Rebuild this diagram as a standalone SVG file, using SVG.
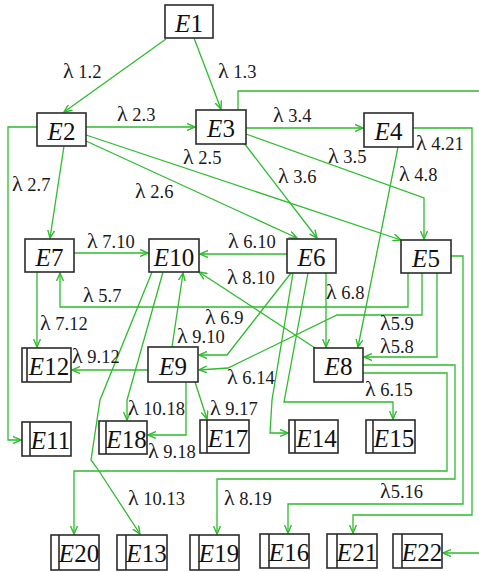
<svg xmlns="http://www.w3.org/2000/svg" width="479" height="572" viewBox="0 0 479 572">
  <style>
    .box { fill: #ffffff; stroke: #2b2b2b; stroke-width: 1.6; }
    .bar { stroke: #2b2b2b; stroke-width: 1.6; }
    .name { font-family: "Liberation Serif", "Times New Roman", serif; font-size: 25px; fill: #111111; text-anchor: middle; }
    .name .v { font-style: italic; }
    .edge { fill: none; stroke: #2cbc2c; stroke-width: 1.3; marker-end: url(#arrow); }
    .rate { font-family: "Liberation Serif", "Times New Roman", serif; font-size: 18.5px; fill: #1a1a1a; }
    .rate .l { font-size: 22px; }
  </style>
  <defs>
    <marker id="arrow" markerUnits="userSpaceOnUse" markerWidth="10" markerHeight="8" refX="8" refY="4" orient="auto">
      <path d="M0,0.5 L8,4 L0,7.5" fill="none" stroke="#2cbc2c" stroke-width="1.4"/>
    </marker>
  </defs>
  <rect width="479" height="572" fill="#ffffff"/>

  <!-- transitions -->
  <g id="connectors">
    <path class="edge" d="M166,39 L64,112"/>
    <path class="edge" d="M194,38 L221,109"/>
    <path class="edge" d="M86,127 H195"/>
    <path class="edge" d="M37,127 H8 V440 H21"/>
    <path class="edge" d="M64,146 L50,238"/>
    <path class="edge" d="M86,135 L401,240"/>
    <path class="edge" d="M86,141 L297,238"/>
    <path class="edge" d="M246,128 H363"/>
    <path class="edge" d="M246,134 L424,198 V239"/>
    <path class="edge" d="M244,143 L317,238"/>
    <path class="edge" d="M238,110 V91 H481 V553 H443"/>
    <path class="edge" d="M413,128 H472 V515 H353 V533"/>
    <path class="edge" d="M398,147 L358,347"/>
    <path class="edge" d="M74,253 H148"/>
    <path class="edge" d="M287,254 H200"/>
    <path class="edge" d="M408,273 V307 H60 V273"/>
    <path class="edge" d="M37,272 V347"/>
    <path class="edge" d="M148,370 H72"/>
    <path class="edge" d="M172,347 L183,273"/>
    <path class="edge" d="M315,348 L199,272"/>
    <path class="edge" d="M291,273 L227,355 H199"/>
    <path class="edge" d="M422,273 V315 H337 L228,368 L199,370"/>
    <path class="edge" d="M437,273 V357 H364"/>
    <path class="edge" d="M451,256 H463 V504 H288 V533"/>
    <path class="edge" d="M363,365 H455 V479 H217 V534"/>
    <path class="edge" d="M363,373 H447 V471 H74 V534"/>
    <path class="edge" d="M326,273 V347"/>
    <path class="edge" d="M293,273 L272,400 L270,433 H288"/>
    <path class="edge" d="M308,273 L284,402 H393 V419"/>
    <path class="edge" d="M163,272 L127,400 V420"/>
    <path class="edge" d="M152,272 L100,400 L91,460 L97,468 L140,534"/>
    <path class="edge" d="M186,382 V435 H148"/>
    <path class="edge" d="M195,382 L207,419"/>
  </g>

  <!-- transition rates -->
  <g id="rates" class="rate">
    <text x="63" y="78"><tspan class="l">λ</tspan> 1.2</text>
    <text x="218" y="78"><tspan class="l">λ</tspan> 1.3</text>
    <text x="117" y="121"><tspan class="l">λ</tspan> 2.3</text>
    <text x="273" y="122"><tspan class="l">λ</tspan> 3.4</text>
    <text x="416" y="150"><tspan class="l">λ</tspan> 4.21</text>
    <text x="183" y="164"><tspan class="l">λ</tspan> 2.5</text>
    <text x="328" y="163"><tspan class="l">λ</tspan> 3.5</text>
    <text x="12" y="191"><tspan class="l">λ</tspan> 2.7</text>
    <text x="278" y="183"><tspan class="l">λ</tspan> 3.6</text>
    <text x="399" y="181"><tspan class="l">λ</tspan> 4.8</text>
    <text x="135" y="198"><tspan class="l">λ</tspan> 2.6</text>
    <text x="87" y="248"><tspan class="l">λ</tspan> 7.10</text>
    <text x="228" y="248"><tspan class="l">λ</tspan> 6.10</text>
    <text x="227" y="284"><tspan class="l">λ</tspan> 8.10</text>
    <text x="326" y="299"><tspan class="l">λ</tspan> 6.8</text>
    <text x="83" y="302"><tspan class="l">λ</tspan> 5.7</text>
    <text x="205" y="324"><tspan class="l">λ</tspan> 6.9</text>
    <text x="40" y="330"><tspan class="l">λ</tspan> 7.12</text>
    <text x="380" y="330"><tspan class="l">λ</tspan>5.9</text>
    <text x="177" y="343"><tspan class="l">λ</tspan> 9.10</text>
    <text x="380" y="353"><tspan class="l">λ</tspan>5.8</text>
    <text x="72" y="363"><tspan class="l">λ</tspan> 9.12</text>
    <text x="227" y="384"><tspan class="l">λ</tspan> 6.14</text>
    <text x="365" y="396"><tspan class="l">λ</tspan> 6.15</text>
    <text x="128" y="415"><tspan class="l">λ</tspan> 10.18</text>
    <text x="210" y="415"><tspan class="l">λ</tspan> 9.17</text>
    <text x="148" y="458"><tspan class="l">λ</tspan> 9.18</text>
    <text x="380" y="498"><tspan class="l">λ</tspan>5.16</text>
    <text x="128" y="505"><tspan class="l">λ</tspan> 10.13</text>
    <text x="224" y="505"><tspan class="l">λ</tspan> 8.19</text>
  </g>

  <!-- transient states -->
  <g id="E1"><rect class="box" x="165" y="5" width="48" height="33"/><text class="name" x="189" y="32"><tspan class="v">E</tspan>1</text></g>
  <g id="E2"><rect class="box" x="37" y="113" width="49" height="33"/><text class="name" x="61.5" y="140"><tspan class="v">E</tspan>2</text></g>
  <g id="E3"><rect class="box" x="196" y="110" width="50" height="34"/><text class="name" x="221" y="137"><tspan class="v">E</tspan>3</text></g>
  <g id="E4"><rect class="box" x="364" y="113" width="49" height="34"/><text class="name" x="388.5" y="140"><tspan class="v">E</tspan>4</text></g>
  <g id="E7"><rect class="box" x="25" y="239" width="49" height="33"/><text class="name" x="49.5" y="266"><tspan class="v">E</tspan>7</text></g>
  <g id="E10"><rect class="box" x="149" y="239" width="50" height="33"/><text class="name" x="174" y="266"><tspan class="v">E</tspan>10</text></g>
  <g id="E6"><rect class="box" x="287" y="239" width="49" height="34"/><text class="name" x="311.5" y="266"><tspan class="v">E</tspan>6</text></g>
  <g id="E5"><rect class="box" x="401" y="240" width="50" height="33"/><text class="name" x="426" y="267"><tspan class="v">E</tspan>5</text></g>
  <g id="E9"><rect class="box" x="148" y="347" width="50" height="35"/><text class="name" x="173" y="375"><tspan class="v">E</tspan>9</text></g>
  <g id="E8"><rect class="box" x="314" y="348" width="49" height="34"/><text class="name" x="338.5" y="375"><tspan class="v">E</tspan>8</text></g>

  <!-- absorbing states -->
  <g id="E12"><rect class="box" x="22" y="348" width="49" height="34"/><line class="bar" x1="27" y1="348" x2="27" y2="382"/><text class="name" x="49" y="375"><tspan class="v">E</tspan>12</text></g>
  <g id="E11"><rect class="box" x="22" y="422" width="49" height="34"/><line class="bar" x1="30" y1="422" x2="30" y2="456"/><text class="name" x="50.5" y="449"><tspan class="v">E</tspan>11</text></g>
  <g id="E18"><rect class="box" x="99" y="421" width="48" height="33"/><line class="bar" x1="106" y1="421" x2="106" y2="454"/><text class="name" x="126.5" y="448"><tspan class="v">E</tspan>18</text></g>
  <g id="E17"><rect class="box" x="200" y="420" width="49" height="33"/><line class="bar" x1="207" y1="420" x2="207" y2="453"/><text class="name" x="228" y="447"><tspan class="v">E</tspan>17</text></g>
  <g id="E14"><rect class="box" x="289" y="420" width="49" height="33"/><line class="bar" x1="295" y1="420" x2="295" y2="453"/><text class="name" x="316.5" y="447"><tspan class="v">E</tspan>14</text></g>
  <g id="E15"><rect class="box" x="366" y="420" width="49" height="33"/><line class="bar" x1="373" y1="420" x2="373" y2="453"/><text class="name" x="394" y="447"><tspan class="v">E</tspan>15</text></g>
  <g id="E20"><rect class="box" x="51" y="535" width="48" height="35"/><line class="bar" x1="59" y1="535" x2="59" y2="570"/><text class="name" x="79" y="562"><tspan class="v">E</tspan>20</text></g>
  <g id="E13"><rect class="box" x="117" y="535" width="50" height="35"/><line class="bar" x1="126" y1="535" x2="126" y2="570"/><text class="name" x="146.5" y="562"><tspan class="v">E</tspan>13</text></g>
  <g id="E19"><rect class="box" x="190" y="535" width="49" height="35"/><line class="bar" x1="199" y1="535" x2="199" y2="570"/><text class="name" x="219" y="562"><tspan class="v">E</tspan>19</text></g>
  <g id="E16"><rect class="box" x="260" y="534" width="49" height="34"/><line class="bar" x1="269" y1="534" x2="269" y2="568"/><text class="name" x="289" y="561"><tspan class="v">E</tspan>16</text></g>
  <g id="E21"><rect class="box" x="327" y="534" width="50" height="34"/><line class="bar" x1="337" y1="534" x2="337" y2="568"/><text class="name" x="357" y="561"><tspan class="v">E</tspan>21</text></g>
  <g id="E22"><rect class="box" x="393" y="534" width="49" height="34"/><line class="bar" x1="402" y1="534" x2="402" y2="568"/><text class="name" x="422" y="561"><tspan class="v">E</tspan>22</text></g>
</svg>
